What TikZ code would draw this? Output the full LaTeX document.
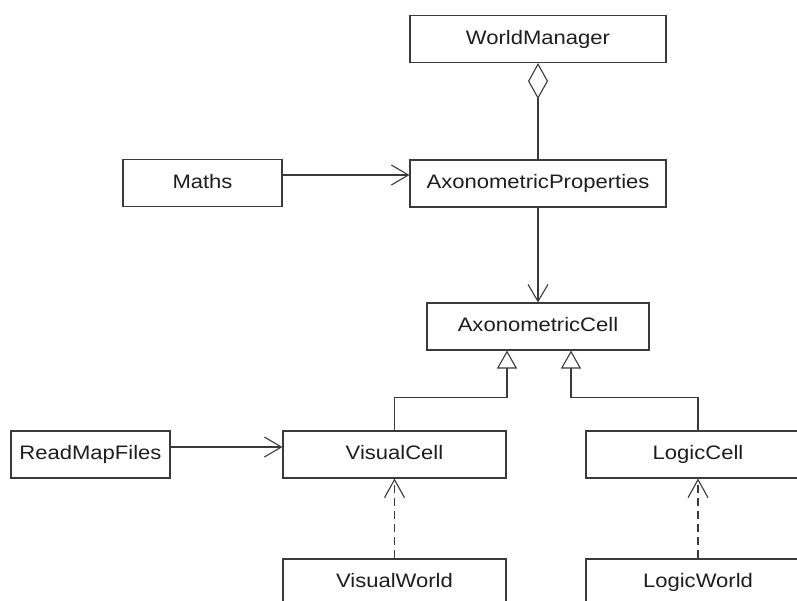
\documentclass[tikz,border=0pt]{standalone}
\usepackage{fontspec}
\setmainfont{Liberation Sans}[FakeStretch=1.13]
\usetikzlibrary{arrows.meta}
\definecolor{ln}{HTML}{3A3A3A}
\definecolor{tx}{HTML}{1E1E1E}
\tikzset{
  cls/.style={draw=ln, line width=1.1pt, rectangle, minimum height=47pt, inner sep=0pt,
    text=tx, font=\fontsize{19.5}{22}\selectfont, text height=14pt, text depth=4pt},
  conn/.style={draw=ln, line width=1.1pt},
  assoc/.style={conn, -{Straight Barb[length=17pt,width=20pt,line width=1.1pt]}},
  dep/.style={conn, dash pattern=on 8pt off 5pt, -{Straight Barb[length=18pt,width=20pt,line width=1.1pt,sep=0pt]}},
  gen/.style={conn, -{Triangle[open,length=18pt,width=20pt,line width=1.1pt]}},
  agg/.style={conn, {Diamond[open,length=36pt,width=20pt,line width=1.1pt]}-}
}
\begin{document}
\begin{tikzpicture}[x=1pt,y=-1pt]
\useasboundingbox (0,0) rectangle (797,600);
\clip (0,0) rectangle (797,600);
\fill[white] (0,0) rectangle (797,600);
\node[cls, minimum width=256pt] (wm) at (538,39) {WorldManager};
\node[cls, minimum width=256pt] (ap) at (538,183.5) {AxonometricProperties};
\node[cls, minimum width=159pt] (maths) at (202.5,183) {Maths};
\node[cls, minimum width=222pt] (ac) at (538,326.5) {AxonometricCell};
\node[cls, minimum width=223pt] (vc) at (394.5,454.5) {VisualCell};
\node[cls, minimum width=224pt] (lc) at (698,454.5) {LogicCell};
\node[cls, minimum width=159pt] (rmf) at (90.5,454.5) {ReadMapFiles};
\node[cls, minimum width=223pt] (vw) at (394.5,582.5) {VisualWorld};
\node[cls, minimum width=224pt] (lw) at (698,582.5) {LogicWorld};
\draw[agg] (wm.south) -- (ap.north);
\draw[assoc] ([yshift=8pt]maths.east) -- ([yshift=8pt]maths.east -| ap.west);
\draw[assoc] (ap.south) -- (ac.north);
\draw[assoc] ([yshift=7.5pt]rmf.east) -- ([yshift=7.5pt]rmf.east -| vc.west);
\draw[gen] (vc.north) -- ++(0,-33) -| ([xshift=-31pt]ac.south);
\draw[gen] (lc.north) -- ++(0,-33) -| ([xshift=33pt]ac.south);
\draw[dep] (vw.north) -- (vc.south);
\draw[dep] (lw.north) -- (lc.south);
\end{tikzpicture}
\end{document}
